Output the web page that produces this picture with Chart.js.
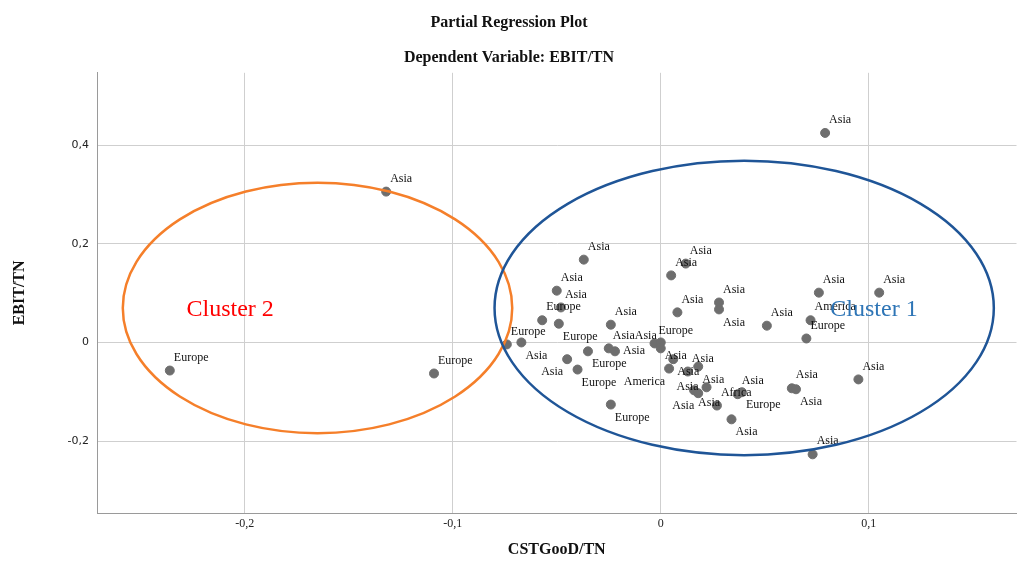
<!DOCTYPE html>
<html>
<head>
<meta charset="utf-8">
<title>Partial Regression Plot</title>
<script src="https://cdn.jsdelivr.net/npm/chart.js@4/dist/chart.umd.min.js"></script>
<style>
  html, body { margin: 0; padding: 0; background: #fff; }
</style>
</head>
<body>
<canvas id="graficoRegressao" width="1022" height="565"></canvas>
<script>
// values (x = CSTGooD/TN, y = EBIT/TN)
const xValues = [
  0.079, -0.132, -0.236, -0.109, -0.037, 0.012, 0.005, -0.050, -0.048, 0.028,
  0.028, 0.008, -0.057, -0.049, -0.024, -0.074, -0.067, -0.003, 0.000, 0.000,
  -0.035, -0.025, -0.022, -0.045, -0.040, 0.006, 0.004, 0.013, 0.018, 0.016,
  0.018, 0.022, 0.037, 0.039, 0.027, -0.024, 0.034, 0.076, 0.105, 0.051,
  0.072, 0.070, 0.095, 0.063, 0.065, 0.073
];
const yValues = [
  0.425, 0.306, -0.057, -0.063, 0.168, 0.160, 0.136, 0.105, 0.071, 0.081,
  0.067, 0.061, 0.045, 0.038, 0.036, -0.004, 0.000, -0.002, 0.000, -0.012,
  -0.018, -0.012, -0.018, -0.034, -0.055, -0.034, -0.053, -0.059, -0.049, -0.097,
  -0.103, -0.091, -0.105, -0.101, -0.128, -0.126, -0.156, 0.101, 0.101, 0.034,
  0.045, 0.008, -0.075, -0.093, -0.095, -0.227
];
const regions = [
  "Asia", "Asia", "Europe", "Europe", "Asia", "Asia", "Asia", "Asia", "Asia", "Asia",
  "Asia", "Asia", "Europe", "Europe", "Asia", "Europe", "Asia", "Europe", "Asia", "Asia",
  "Europe", "Asia", "Asia", "Asia", "Europe", "Asia", "America", "Asia", "Asia", "Asia",
  "Asia", "Asia", "Asia", "Europe", "Africa", "Europe", "Asia", "Asia", "Asia", "Asia",
  "America", "Europe", "Asia", "Asia", "Asia", "Asia"
];
const xTicks = [-0.2, -0.1, 0, 0.1];
const yTicks = [-0.2, 0, 0.2, 0.4];

// SPSS style decimal comma
function formatTick(v) {
  return String(v).replace(".", ",");
}

const points = xValues.map((x, i) => ({ x: x, y: yValues[i] }));

// labels go above-right of the point; if that spot is taken, try a few others
const pointLabels = {
  id: "pointLabels",
  afterDatasetsDraw(chart) {
    const ctx = chart.ctx;
    const meta = chart.getDatasetMeta(0);
    const placed = [];
    const h = 11;
    ctx.save();
    ctx.font = "12px 'Liberation Serif'";
    ctx.fillStyle = "#111";
    ctx.textAlign = "left";
    ctx.textBaseline = "middle";
    meta.data.forEach((pt, i) => {
      const w = ctx.measureText(regions[i]).width;
      const spots = [
        [pt.x + 4, pt.y - 13],
        [pt.x + 4, pt.y + 13],
        [pt.x - w - 4, pt.y - 13],
        [pt.x - w - 4, pt.y + 13],
        [pt.x + 8, pt.y],
        [pt.x - w - 8, pt.y],
      ];
      let pick = spots[0];
      for (const s of spots) {
        const box = { l: s[0], r: s[0] + w, t: s[1] - h / 2, b: s[1] + h / 2 };
        const hit = placed.some(p => box.l < p.r && box.r > p.l && box.t < p.b && box.b > p.t);
        if (!hit) { pick = s; break; }
      }
      placed.push({ l: pick[0], r: pick[0] + w, t: pick[1] - h / 2, b: pick[1] + h / 2 });
      ctx.fillText(regions[i], pick[0], pick[1]);
    });
    ctx.restore();
  }
};

const clusterOutlines = {
  id: "clusterOutlines",
  afterDraw(chart, args, opts) {
    const ctx = chart.ctx;
    const sx = chart.scales.x;
    const sy = chart.scales.y;
    opts.items.forEach(c => {
      const cx = sx.getPixelForValue(c.cx);
      const cy = sy.getPixelForValue(c.cy);
      const rx = Math.abs(sx.getPixelForValue(c.cx + c.rx) - cx);
      const ry = Math.abs(sy.getPixelForValue(c.cy + c.ry) - cy);
      ctx.save();
      ctx.beginPath();
      ctx.ellipse(cx, cy, rx, ry, 0, 0, Math.PI * 2);
      ctx.strokeStyle = c.lineColor;
      ctx.lineWidth = 2.5;
      ctx.stroke();
      ctx.font = "24px 'Liberation Serif'";
      ctx.fillStyle = c.textColor;
      ctx.textAlign = "center";
      ctx.textBaseline = "middle";
      ctx.fillText(c.name, sx.getPixelForValue(c.tx), sy.getPixelForValue(c.ty));
      ctx.restore();
    });
  }
};

const grafico = new Chart(document.getElementById("graficoRegressao"), {
  type: "scatter",
  data: {
    datasets: [
      {
        label: "EBIT/TN",
        data: points,
        backgroundColor: "#6e6e6e",
        borderColor: "#6e6e6e",
        pointRadius: 4.5,
        pointHoverRadius: 4.5,
      },
    ],
  },
  options: {
    responsive: false,
    animation: false,
    layout: { padding: { left: 0, right: 4, top: 0, bottom: 0 } },
    plugins: {
      legend: { display: false },
      tooltip: { enabled: false },
      title: {
        display: true,
        text: ["Partial Regression Plot", "Dependent Variable: EBIT/TN"],
        color: "#111",
        font: { family: "'Liberation Serif'", size: 16, weight: "bold", lineHeight: 2.15 },
        padding: { top: 6, bottom: -2 },
      },
      clusterOutlines: {
        items: [
          { name: "Cluster 2", cx: -0.165, cy: 0.07, rx: 0.0936, ry: 0.254,
            tx: -0.207, ty: 0.067, lineColor: "#f57f2a", textColor: "#ff0000" },
          { name: "Cluster 1", cx: 0.0401, cy: 0.07, rx: 0.12, ry: 0.2986,
            tx: 0.1025, ty: 0.067, lineColor: "#1f5597", textColor: "#2e75b6" },
        ],
      },
    },
    scales: {
      x: {
        type: "linear",
        min: -0.271,
        max: 0.171,
        afterBuildTicks: s => { s.ticks = xTicks.map(v => ({ value: v })); },
        afterFit: s => { s.height = 52; },
        grid: { color: "#cfcfcf", drawTicks: false },
        border: { color: "#9a9a9a" },
        ticks: {
          padding: 4,
          color: "#222",
          font: { family: "'Liberation Serif'", size: 12 },
          callback: v => formatTick(v),
        },
        title: {
          display: true,
          text: "CSTGooD/TN",
          color: "#111",
          font: { family: "'Liberation Serif'", size: 16, weight: "bold" },
          padding: { top: 0, bottom: 6 },
        },
      },
      y: {
        type: "linear",
        min: -0.346,
        max: 0.547,
        afterBuildTicks: s => { s.ticks = yTicks.map(v => ({ value: v })); },
        afterFit: s => { s.width = 97; },
        grid: { color: "#cfcfcf", drawTicks: false },
        border: { color: "#9a9a9a" },
        ticks: {
          padding: 8,
          color: "#222",
          font: { family: "'DejaVu Sans'", size: 11 },
          callback: v => formatTick(v),
        },
        title: {
          display: true,
          text: "EBIT/TN",
          color: "#111",
          font: { family: "'Liberation Serif'", size: 16, weight: "bold" },
          padding: { top: 10, bottom: 0 },
        },
      },
    },
  },
  plugins: [pointLabels, clusterOutlines],
});
</script>
</body>
</html>
